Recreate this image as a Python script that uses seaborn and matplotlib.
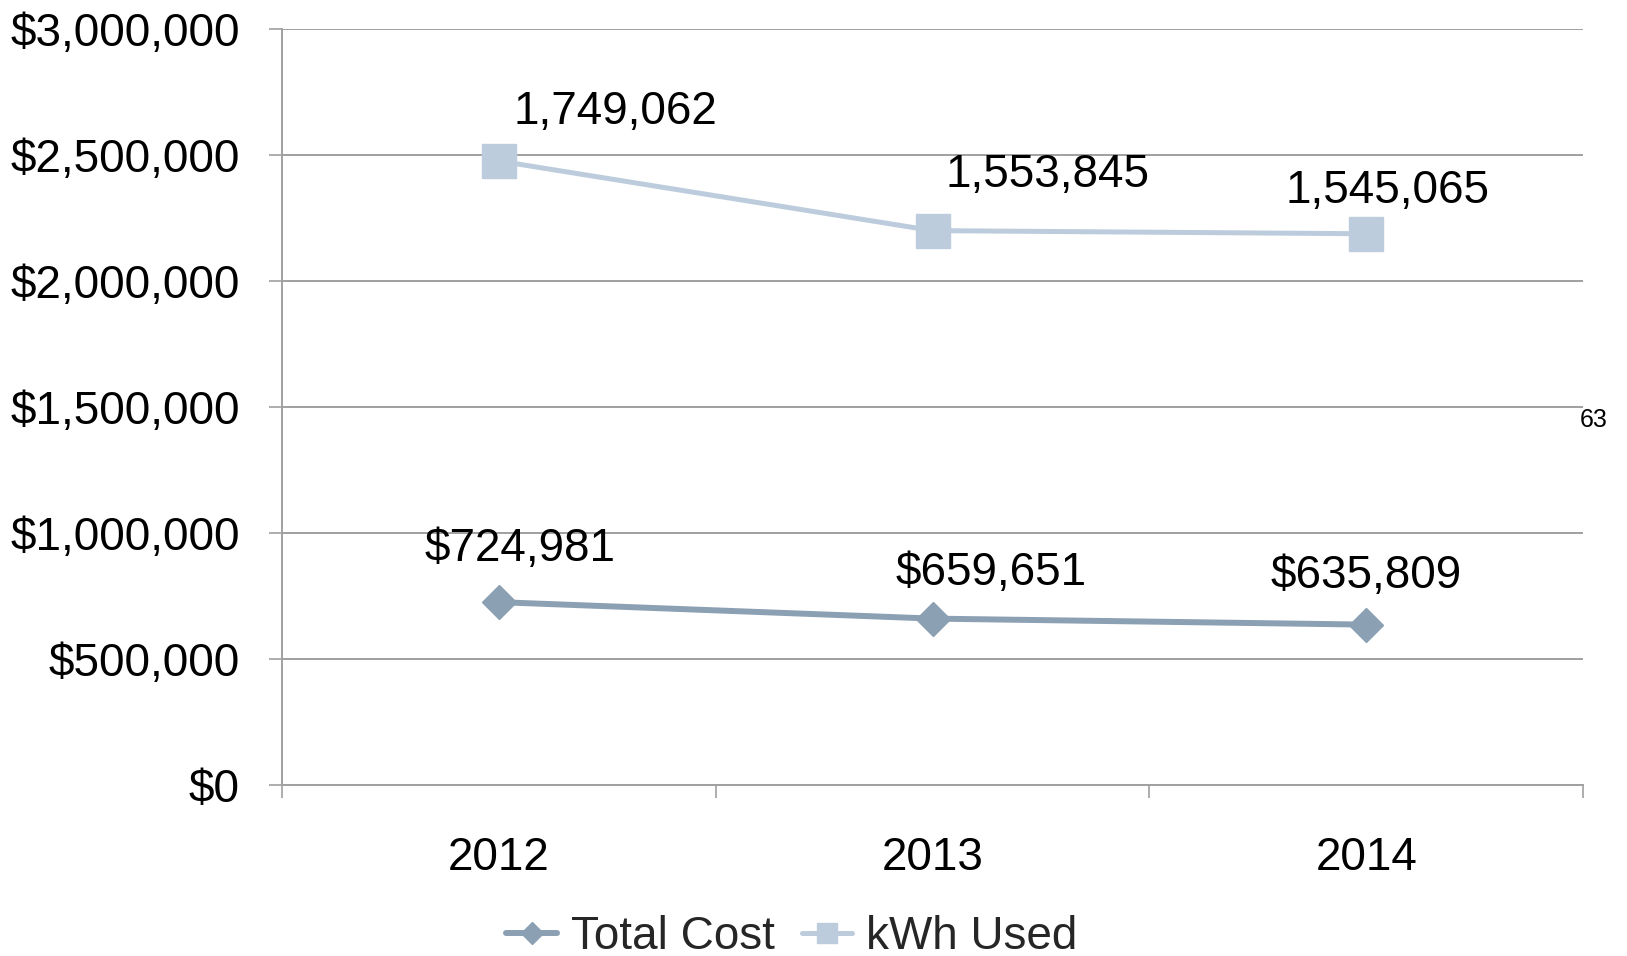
import matplotlib
matplotlib.use("Agg")
import matplotlib.pyplot as plt
import seaborn as sns
import pandas as pd
from matplotlib.ticker import FuncFormatter, FixedLocator
from matplotlib.lines import Line2D

years = ["2012", "2013", "2014"]
total_cost = [724981, 659651, 635809]
kwh_used = [1749062, 1553845, 1545065]
cost_ticks = [0, 500000, 1000000, 1500000, 2000000, 2500000, 3000000]

sns.set_theme(style="white")
plt.rcParams["font.family"] = ["Liberation Sans", "DejaVu Sans"]

cost_color = "#8BA0B3"
kwh_color = "#BCCCDC"
grid_color = "#A0A0A0"

df = pd.DataFrame({"pos": range(len(years)), "year": years,
                   "cost": total_cost, "kwh": kwh_used})

fig = plt.figure(figsize=(16.27, 9.56), dpi=100)
ax = fig.add_axes([0.1733, 0.179, 0.7997, 0.791])
ax2 = ax.twinx()

sns.lineplot(data=df, x="pos", y="cost", ax=ax, color=cost_color, lw=4.3,
             marker="D", markersize=17, markeredgecolor=cost_color,
             markeredgewidth=1, zorder=3)
sns.lineplot(data=df, x="pos", y="kwh", ax=ax2, color=kwh_color, lw=3.6,
             marker="s", markersize=25, markeredgecolor=kwh_color,
             markeredgewidth=1, zorder=3)

# primary (cost) axis
ax.set_xlim(-0.5, len(years) - 0.5)
ax.set_ylim(0, 3000000)
ax.yaxis.set_major_locator(FixedLocator(cost_ticks))
ax.yaxis.set_major_formatter(FuncFormatter(lambda v, p: f"${v:,.0f}"))
ax.grid(axis="y", color=grid_color, lw=1.4)
ax.grid(axis="x", visible=False)
ax.set_axisbelow(True)
for s in ["top", "right"]:
    ax.spines[s].set_visible(False)
for s in ["left", "bottom"]:
    ax.spines[s].set_color(grid_color)
    ax.spines[s].set_linewidth(1.4)
ax.tick_params(axis="y", which="major", left=True, length=9.4, width=1.2,
               color=grid_color, pad=21, labelsize=33, labelcolor="black")

# category boundaries as major ticks, year labels on minor ticks
ax.xaxis.set_major_locator(FixedLocator([i - 0.5 for i in range(len(years) + 1)]))
ax.xaxis.set_major_formatter(FuncFormatter(lambda v, p: ""))
ax.xaxis.set_minor_locator(FixedLocator(list(range(len(years)))))
ax.set_xticklabels(years, minor=True)
ax.tick_params(axis="x", which="major", bottom=True, length=9.4, width=1.2,
               color=grid_color)
ax.tick_params(axis="x", which="minor", bottom=True, length=0, pad=37,
               labelsize=33, labelcolor="black")
ax.set_xlabel("")
ax.set_ylabel("")

# hidden secondary (kWh) axis
ax2.set_ylim(0, 2120000)
ax2.set_yticks([])
ax2.set_ylabel("")
for s in ax2.spines.values():
    s.set_visible(False)

# data labels
cost_offsets = [(15, 38), (42, 33), (0, 35)]
kwh_offsets = [(84, 35), (83, 40), (15, 31)]
for i, v in enumerate(total_cost):
    ax.annotate(f"${v:,}", (i, v), xytext=cost_offsets[i],
                textcoords="offset points", ha="center", va="center",
                fontsize=33, color="black")
for i, v in enumerate(kwh_used):
    ax2.annotate(f"{v:,}", (i, v), xytext=kwh_offsets[i],
                 textcoords="offset points", ha="center", va="center",
                 fontsize=33, color="black")

handles = [
    Line2D([], [], color=cost_color, lw=4.3, marker="D", markersize=11,
           markeredgecolor=cost_color),
    Line2D([], [], color=kwh_color, lw=3.6, marker="s", markersize=15,
           markeredgecolor=kwh_color),
]
fig.legend(handles, ["Total Cost", "kWh Used"], loc="center",
           bbox_to_anchor=(792 / 1627, 1 - 937 / 956), ncol=2, frameon=False,
           fontsize=33, handlelength=1.1, handletextpad=0.3,
           columnspacing=0.6)

fig.text(1580 / 1627, 1 - 427 / 956, "63", fontsize=18, ha="left",
         va="baseline", color="black")

fig.savefig("out.png", dpi=100)
